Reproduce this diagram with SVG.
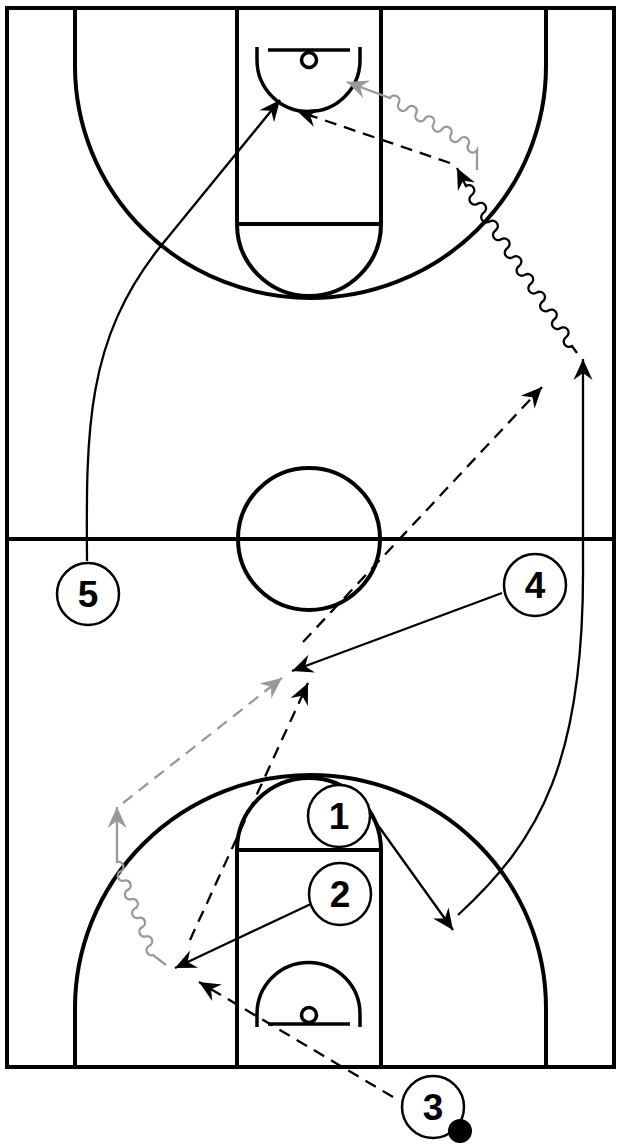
<svg xmlns="http://www.w3.org/2000/svg" width="624" height="1144" viewBox="0 0 624 1144">
<style>
.court{fill:none;stroke:#000;stroke-width:4}
.thin{fill:none;stroke:#000;stroke-width:3.5}
.mv{fill:none;stroke:#000;stroke-width:2.3}
.gr{fill:none;stroke:#999;stroke-width:2.3}
.dash{stroke-dasharray:12 8}
.pl{fill:#fff;stroke:#000;stroke-width:2.5}
.num{font-family:"Liberation Sans",Arial,sans-serif;font-weight:bold;font-size:37px;text-anchor:middle;fill:#000}
</style>
<defs>
<marker id="ab" markerUnits="userSpaceOnUse" markerWidth="30" markerHeight="30" refX="0" refY="0" orient="auto" overflow="visible">
<path d="M0,0 L-21,-9.5 L-14,0 L-21,9.5 Z" fill="#000"/>
</marker>
<marker id="ag" markerUnits="userSpaceOnUse" markerWidth="30" markerHeight="30" refX="0" refY="0" orient="auto" overflow="visible">
<path d="M0,0 L-21,-9.5 L-14,0 L-21,9.5 Z" fill="#999"/>
</marker>
</defs>
<rect width="624" height="1144" fill="#fff"/>
<g id="court">
<rect class="court" x="7" y="8" width="607" height="1059"/>
<line class="court" x1="7" y1="539" x2="614" y2="539"/>
<circle class="court" cx="309" cy="539" r="71"/>
<path class="court" d="M75 8 V66 A235.5 232 0 0 0 546 66 V8"/>
<path class="court" d="M237 8 V224 M381 8 V224 M237 224 H381"/>
<path class="court" d="M237 224 A72 72 0 0 0 381 224"/>
<path class="thin" d="M257 47 V60 A51.5 51.5 0 0 0 360 60 V47"/>
<line class="thin" x1="268" y1="50" x2="350" y2="50"/>
<circle class="thin" cx="309" cy="60" r="7.5" stroke-width="3"/>
<path class="court" d="M75 1067 V1008 A235.5 233 0 0 1 546 1008 V1067"/>
<path class="court" d="M237 1067 V850 M381 1067 V850 M237 850 H381"/>
<path class="court" d="M237 850 A72 72 0 0 1 381 850"/>
<path class="thin" d="M257 1027 V1014 A51.5 51.5 0 0 1 360 1014 V1027"/>
<line class="thin" x1="268" y1="1024" x2="350" y2="1024"/>
<circle class="thin" cx="309" cy="1015" r="7.5" stroke-width="3"/>
</g>
<g id="connectors">
<path class="mv" d="M87 561 C86 430 86 340 160 247 L280 100" marker-end="url(#ab)"/>
<path class="mv dash" d="M450 163 L297 111" marker-end="url(#ab)"/>
<path class="gr" d="M477 170 L477 150 a5 5 0 0 1 -8.7 -5.2 a5 5 0 0 0 -8.7 -5.2 a5 5 0 0 1 -8.7 -5.2 a5 5 0 0 0 -8.7 -5.2 a5 5 0 0 1 -8.7 -5.2 a5 5 0 0 0 -8.7 -5.2 a5 5 0 0 1 -8.7 -5.2 a5 5 0 0 0 -8.7 -5.2 a5 5 0 0 1 -8.7 -5.2 a5 5 0 0 0 -8.7 -5.2 L347 82" marker-end="url(#ag)"/>
<path class="mv" d="M577 353 L572 346 a5 5 0 0 1 -5.89 -8.89 a5 5 0 0 0 -5.89 -8.89 a5 5 0 0 1 -5.89 -8.89 a5 5 0 0 0 -5.89 -8.89 a5 5 0 0 1 -5.89 -8.89 a5 5 0 0 0 -5.89 -8.89 a5 5 0 0 1 -5.89 -8.89 a5 5 0 0 0 -5.89 -8.89 a5 5 0 0 1 -5.89 -8.89 a5 5 0 0 0 -5.89 -8.89 a5 5 0 0 1 -5.89 -8.89 a5 5 0 0 0 -5.89 -8.89 a5 5 0 0 1 -5.89 -8.89 a5 5 0 0 0 -5.89 -8.89 a5 5 0 0 1 -5.89 -8.89 a5 5 0 0 0 -5.89 -8.89 a5 5 0 0 1 -5.89 -8.89 a5 5 0 0 0 -5.89 -8.89 L457 168" marker-end="url(#ab)"/>
<path class="mv" d="M458 915 C540 840 585 760 583 560 L583 359" marker-end="url(#ab)"/>
<path class="mv" d="M372 817 L453 930" marker-end="url(#ab)"/>
<path class="mv dash" d="M303 642 L542 387" marker-end="url(#ab)"/>
<path class="mv" d="M502 593 L292 671" marker-end="url(#ab)"/>
<path class="mv dash" d="M190 940 L308 683" marker-end="url(#ab)"/>
<path class="mv" d="M313 903 L175 968" marker-end="url(#ab)"/>
<path class="mv dash" d="M393 1097 L199 982" marker-end="url(#ab)"/>
<path class="gr" d="M166 965 L153 955 a5 5 0 0 1 -3.6 -9.3 a5 5 0 0 0 -3.6 -9.3 a5 5 0 0 1 -3.6 -9.3 a5 5 0 0 0 -3.6 -9.3 a5 5 0 0 1 -3.6 -9.3 a5 5 0 0 0 -3.6 -9.3 a5 5 0 0 1 -3.6 -9.3 a5 5 0 0 0 -3.6 -9.3 a5 5 0 0 1 -3.6 -9.3 a5 5 0 0 0 -3.6 -9.3 L117 807" marker-end="url(#ag)"/>
<path class="gr dash" d="M123 803 L282 678" marker-end="url(#ag)"/>
</g>
<g id="player5"><circle class="pl" cx="88" cy="594" r="31"/><text class="num" x="88" y="607">5</text></g>
<g id="player4"><circle class="pl" cx="535" cy="585" r="31"/><text class="num" x="535" y="598">4</text></g>
<g id="player1"><circle class="pl" cx="339" cy="816" r="31"/><text class="num" x="339" y="829">1</text></g>
<g id="player2"><circle class="pl" cx="340" cy="894" r="31"/><text class="num" x="340" y="907">2</text></g>
<g id="player3"><circle class="pl" cx="433" cy="1107" r="31"/><text class="num" x="433" y="1120">3</text><circle cx="460" cy="1131" r="12" fill="#000"/></g>
</svg>
